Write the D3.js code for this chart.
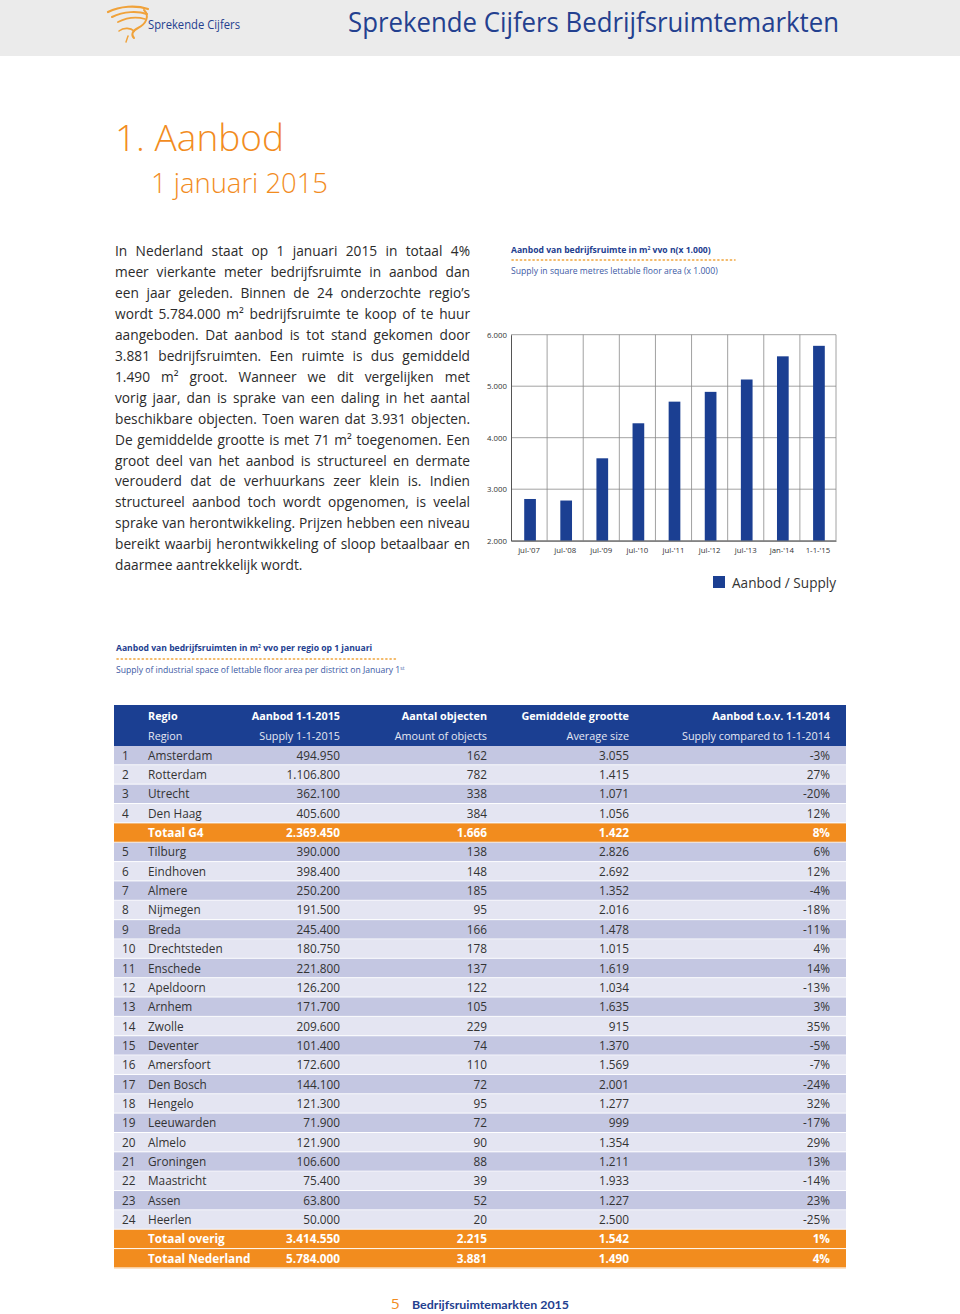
<!DOCTYPE html>
<html>
<head>
<meta charset="utf-8">
<script src="https://cdn.jsdelivr.net/npm/d3@7"></script>
<style>
  html, body { margin: 0; padding: 0; background: #fff; }
  svg { display: block; }
  text { font-family: "Open Sans", sans-serif; }
</style>
</head>
<body>
<div id="page"></div>
<script>
// ---------------- DATA ----------------
const chartCategories = ["jul-'07", "jul-'08", "jul-'09", "jul-'10", "jul-'11", "jul-'12", "jul-'13", "jan-'14", "1-1-'15"];
const chartValues = [2810, 2780, 3600, 4280, 4700, 4890, 5130, 5580, 5784];
const chartYTicks = [2000, 3000, 4000, 5000, 6000];
const chartSeriesName = "Aanbod / Supply";

const regionIds = [1, 2, 3, 4, 5, 6, 7, 8, 9, 10, 11, 12, 13, 14, 15, 16, 17, 18, 19, 20, 21, 22, 23, 24];
const regionNames = ["Amsterdam", "Rotterdam", "Utrecht", "Den Haag", "Tilburg", "Eindhoven", "Almere", "Nijmegen", "Breda", "Drechtsteden", "Enschede", "Apeldoorn", "Arnhem", "Zwolle", "Deventer", "Amersfoort", "Den Bosch", "Hengelo", "Leeuwarden", "Almelo", "Groningen", "Maastricht", "Assen", "Heerlen"];
const regionSupply = [494950, 1106800, 362100, 405600, 390000, 398400, 250200, 191500, 245400, 180750, 221800, 126200, 171700, 209600, 101400, 172600, 144100, 121300, 71900, 121900, 106600, 75400, 63800, 50000];
const regionObjects = [162, 782, 338, 384, 138, 148, 185, 95, 166, 178, 137, 122, 105, 229, 74, 110, 72, 95, 72, 90, 88, 39, 52, 20];
const regionAvgSize = [3055, 1415, 1071, 1056, 2826, 2692, 1352, 2016, 1478, 1015, 1619, 1034, 1635, 915, 1370, 1569, 2001, 1277, 999, 1354, 1211, 1933, 1227, 2500];
const regionChange = [-3, 27, -20, 12, 6, 12, -4, -18, -11, 4, 14, -13, 3, 35, -5, -7, -24, 32, -17, 29, 13, -14, 23, -25];

const totalNames = ["Totaal G4", "Totaal overig", "Totaal Nederland"];
const totalSupply = [2369450, 3414550, 5784000];
const totalObjects = [1666, 2215, 3881];
const totalAvgSize = [1422, 1542, 1490];
const totalChange = [8, 1, 4];
const totalAfterIndex = [4, 24, 24]; // insert after this many regions

const headerTop = ["Regio", "Aanbod 1-1-2015", "Aantal objecten", "Gemiddelde grootte", "Aanbod t.o.v. 1-1-2014"];
const headerBottom = ["Region", "Supply 1-1-2015", "Amount of objects", "Average size", "Supply compared to 1-1-2014"];

const paragraphLines = [
  "In Nederland staat op 1 januari 2015 in totaal 4%",
  "meer vierkante meter bedrijfsruimte in aanbod dan",
  "een jaar geleden. Binnen de 24 onderzochte regio\u2019s",
  "wordt 5.784.000 m\u00B2 bedrijfsruimte te koop of te huur",
  "aangeboden. Dat aanbod is tot stand gekomen door",
  "3.881 bedrijfsruimten. Een ruimte is dus gemiddeld",
  "1.490 m\u00B2 groot. Wanneer we dit vergelijken met",
  "vorig jaar, dan is sprake van een daling in het aantal",
  "beschikbare objecten. Toen waren dat 3.931 objecten.",
  "De gemiddelde grootte is met 71 m\u00B2 toegenomen. Een",
  "groot deel van het aanbod is structureel en dermate",
  "verouderd dat de verhuurkans zeer klein is. Indien",
  "structureel aanbod toch wordt opgenomen, is veelal",
  "sprake van herontwikkeling. Prijzen hebben een niveau",
  "bereikt waarbij herontwikkeling of sloop betaalbaar en",
  "daarmee aantrekkelijk wordt."
];

// ---------------- STYLE ----------------
const BLUE = "#1b3f92";
const BLUE_TEXT = "#23408f";
const ORANGE = "#f28c1e";
const GREY_TXT = "#333";

const nl = d3.formatLocale({decimal: ",", thousands: ".", grouping: [3], currency: ["", ""]});
const fmt = nl.format(",d");

const W = 960, H = 1314;
const svg = d3.select("#page").append("svg").attr("width", W).attr("height", H);

// ---------------- HEADER ----------------
svg.append("rect").attr("x", 0).attr("y", 0).attr("width", W).attr("height", 56).attr("fill", "#ebebeb");

// logo swirl
const logo = svg.append("g").attr("fill", "none").attr("stroke", "#f0a23a").attr("stroke-linecap", "round");
logo.append("path").attr("d", "M108,12 C120,6 136,5 148,9").attr("stroke-width", 2.2);
logo.append("path").attr("d", "M112,17 C124,11 138,11 147,14").attr("stroke-width", 2);
logo.append("path").attr("d", "M118,22 C128,17 138,17 145,19").attr("stroke-width", 1.8);
logo.append("path").attr("d", "M144,10 C150,16 146,24 138,28 C132,31 131,35 134,38").attr("stroke-width", 2);
logo.append("path").attr("d", "M119,31 C124,27 131,28 134,31").attr("stroke-width", 1.6);
logo.append("path").attr("d", "M128,36 L126,42").attr("stroke-width", 1.4);
svg.append("text").attr("x", 148).attr("y", 29).attr("font-size", 12.5).attr("fill", BLUE_TEXT)
  .attr("textLength", 92).attr("lengthAdjust", "spacingAndGlyphs").text("Sprekende Cijfers");

svg.append("text").attr("x", 348).attr("y", 32).attr("font-size", 27).attr("fill", BLUE_TEXT)
  .attr("textLength", 491).attr("lengthAdjust", "spacingAndGlyphs").text("Sprekende Cijfers Bedrijfsruimtemarkten");

// ---------------- TITLES ----------------
svg.append("text").attr("x", 115).attr("y", 151).attr("font-size", 37).attr("fill", ORANGE).attr("font-weight", 300)
  .attr("textLength", 169).attr("lengthAdjust", "spacingAndGlyphs").text("1. Aanbod");
svg.append("text").attr("x", 151).attr("y", 193).attr("font-size", 27).attr("fill", ORANGE).attr("font-weight", 300)
  .attr("textLength", 177).attr("lengthAdjust", "spacingAndGlyphs").text("1 januari 2015");

// ---------------- PARAGRAPH (justified, auto-fit font size) ----------------
const parX = 115, parW = 355, parY0 = 256, parLH = 20.95;
const par = svg.append("g").attr("fill", "#2b2b2b");
// measure at a test size to choose a font size that fits the tightest line
const probeFS = 14;
const probe = par.append("text").attr("font-size", probeFS);
let maxW = 0;
paragraphLines.slice(0, -1).forEach(l => { probe.text(l); maxW = Math.max(maxW, probe.node().getComputedTextLength()); });
probe.remove();
const parFS = Math.min(15.5, probeFS * (parW - 3) / maxW);
par.attr("font-size", parFS);
paragraphLines.forEach((line, i) => {
  const t = par.append("text").attr("x", parX).attr("y", parY0 + i * parLH).text(line);
  if (i < paragraphLines.length - 1) {
    const natural = t.node().getComputedTextLength();
    const spaces = (line.match(/ /g) || []).length;
    if (spaces > 0) t.style("word-spacing", ((parW - natural) / spaces) + "px");
  }
});

// ---------------- CHART ----------------
svg.append("text").attr("x", 511).attr("y", 253).attr("font-size", 8.6).attr("font-weight", 700)
  .attr("fill", BLUE_TEXT).html("Aanbod van bedrijfsruimte in m<tspan font-size='5' dy='-3'>2</tspan><tspan dy='3'> vvo n(x 1.000)</tspan>");
svg.append("line").attr("x1", 512).attr("x2", 735).attr("y1", 260).attr("y2", 260)
  .attr("stroke", "#f0a43a").attr("stroke-width", 1.6).attr("stroke-dasharray", "1.2,3").attr("stroke-linecap", "round");
svg.append("text").attr("x", 511).attr("y", 274).attr("font-size", 8.6).attr("fill", "#3c5aa5")
  .text("Supply in square metres lettable floor area (x 1.000)");

const x = d3.scaleBand().domain(chartCategories).range([511, 836]).paddingInner(0).paddingOuter(0);
const y = d3.scaleLinear().domain([2000, 6000]).range([540.7, 334.7]);

const chart = svg.append("g");
// horizontal grid
chart.append("g").selectAll("line").data(chartYTicks).join("line")
  .attr("x1", x.range()[0]).attr("x2", x.range()[1])
  .attr("y1", d => y(d)).attr("y2", d => y(d))
  .attr("stroke", "#8a8a8a").attr("stroke-width", 0.8);
// vertical grid at band boundaries
const bounds = chartCategories.map(c => x(c) + x.bandwidth());
chart.append("g").selectAll("line").data(bounds).join("line")
  .attr("x1", d => d).attr("x2", d => d)
  .attr("y1", y(6000)).attr("y2", y(2000))
  .attr("stroke", "#8a8a8a").attr("stroke-width", 0.8);
// bars
const barW = 11.7;
chart.append("g").selectAll("rect").data(chartValues).join("rect")
  .attr("x", (d, i) => x(chartCategories[i]) + x.bandwidth() / 2 - barW / 2 + 1)
  .attr("y", d => y(d))
  .attr("width", barW)
  .attr("height", d => y(2000) - y(d))
  .attr("fill", BLUE);
// y axis
const yAxis = chart.append("g").attr("transform", `translate(${x.range()[0]},0)`)
  .call(d3.axisLeft(y).tickValues(chartYTicks).tickFormat(d => fmt(d)).tickSize(0).tickPadding(4));
yAxis.select(".domain").attr("stroke", "#555").attr("stroke-width", 1);
yAxis.selectAll("text").attr("font-size", 7.8).attr("fill", GREY_TXT).attr("font-family", "Open Sans, sans-serif");
// x axis
const xAxis = chart.append("g").attr("transform", `translate(0,${y(2000)})`)
  .call(d3.axisBottom(x).tickSize(0).tickPadding(7));
xAxis.select(".domain").attr("stroke", "#555").attr("stroke-width", 1);
xAxis.selectAll("text").attr("font-size", 7.8).attr("fill", GREY_TXT).attr("font-family", "Open Sans, sans-serif");

// legend
svg.append("rect").attr("x", 713).attr("y", 576).attr("width", 12).attr("height", 12).attr("fill", BLUE);
svg.append("text").attr("x", 732).attr("y", 587.5).attr("font-size", 13.6).attr("fill", GREY_TXT).text(chartSeriesName);

// ---------------- TABLE TITLES ----------------
svg.append("text").attr("x", 116).attr("y", 651).attr("font-size", 8.6).attr("font-weight", 700)
  .attr("fill", BLUE_TEXT).html("Aanbod van bedrijfsruimten in m<tspan font-size='5' dy='-3'>2</tspan><tspan dy='3'> vvo per regio op 1 januari</tspan>");
svg.append("line").attr("x1", 117).attr("x2", 398).attr("y1", 659).attr("y2", 659)
  .attr("stroke", "#f0a43a").attr("stroke-width", 1.6).attr("stroke-dasharray", "1.2,3").attr("stroke-linecap", "round");
svg.append("text").attr("x", 116).attr("y", 673).attr("font-size", 8.6).attr("fill", "#3c5aa5")
  .html("Supply of industrial space of lettable floor area per district on January 1<tspan font-size='5' dy='-3'>st</tspan>");

// ---------------- TABLE ----------------
const rows = [];
regionIds.forEach((id, i) => {
  rows.push({type: "region", id, name: regionNames[i], supply: regionSupply[i], objects: regionObjects[i], avg: regionAvgSize[i], change: regionChange[i]});
  totalAfterIndex.forEach((after, k) => {
    if (after === i + 1) rows.push({type: "total", id: "", name: totalNames[k], supply: totalSupply[k], objects: totalObjects[k], avg: totalAvgSize[k], change: totalChange[k]});
  });
});

const tX0 = 114, tX1 = 846, tHeadY = 705, tHeadH = 41, rowH = 19.35;
const colRight = [null, 340, 487, 629, 830];
const table = svg.append("g").style("font-family", "Lato, 'Open Sans', sans-serif");

table.append("rect").attr("x", tX0).attr("y", tHeadY).attr("width", tX1 - tX0).attr("height", tHeadH).attr("fill", BLUE);
headerTop.forEach((h, j) => {
  table.append("text").attr("x", j === 0 ? 148 : colRight[j]).attr("y", 719.5)
    .attr("text-anchor", j === 0 ? "start" : "end").attr("font-size", 10.8).attr("font-weight", 700)
    .attr("fill", "#fff").text(h);
});
headerBottom.forEach((h, j) => {
  table.append("text").attr("x", j === 0 ? 148 : colRight[j]).attr("y", 739.5)
    .attr("text-anchor", j === 0 ? "start" : "end").attr("font-size", 10.8)
    .attr("fill", "#e6e8f3").text(h);
});

const rowY = i => tHeadY + tHeadH + i * rowH;
const rowG = table.selectAll("g.row").data(rows).join("g").attr("class", "row")
  .attr("transform", (d, i) => `translate(0,${rowY(i)})`);
rowG.append("rect").attr("x", tX0).attr("y", 0).attr("width", tX1 - tX0).attr("height", rowH)
  .attr("fill", d => d.type === "total" ? ORANGE : (d.id % 2 === 1 ? "#c4c7e2" : "#e4e5f2"));
rowG.append("line").attr("x1", tX0).attr("x2", tX1).attr("y1", rowH - 0.5).attr("y2", rowH - 0.5)
  .attr("stroke", "#fff").attr("stroke-width", 1);

const cellFS = 11.8, base = rowH / 2 + 4;
rowG.append("text").attr("x", 122).attr("y", base).attr("font-size", cellFS).attr("fill", GREY_TXT).text(d => d.id);
rowG.append("text").attr("x", 148).attr("y", base).attr("font-size", cellFS)
  .attr("font-weight", d => d.type === "total" ? 700 : 400)
  .attr("fill", d => d.type === "total" ? "#fff" : GREY_TXT).text(d => d.name);
const cols = [d => fmt(d.supply), d => fmt(d.objects), d => fmt(d.avg), d => d.change + "%"];
cols.forEach((f, j) => {
  rowG.append("text").attr("x", colRight[j + 1]).attr("y", base).attr("text-anchor", "end")
    .attr("font-size", cellFS).attr("font-weight", d => d.type === "total" ? 700 : 400)
    .attr("fill", d => d.type === "total" ? "#fff" : GREY_TXT).text(f);
});

// ---------------- FOOTER ----------------
svg.append("text").attr("x", 391).attr("y", 1309).attr("font-size", 15).attr("fill", ORANGE).text("5");
svg.append("text").attr("x", 412).attr("y", 1308.5).attr("font-size", 12.2).attr("font-weight", 700)
  .attr("fill", BLUE_TEXT).style("font-family", "Lato, sans-serif")
  .attr("textLength", 157).attr("lengthAdjust", "spacingAndGlyphs").text("Bedrijfsruimtemarkten 2015");
</script>
</body>
</html>
